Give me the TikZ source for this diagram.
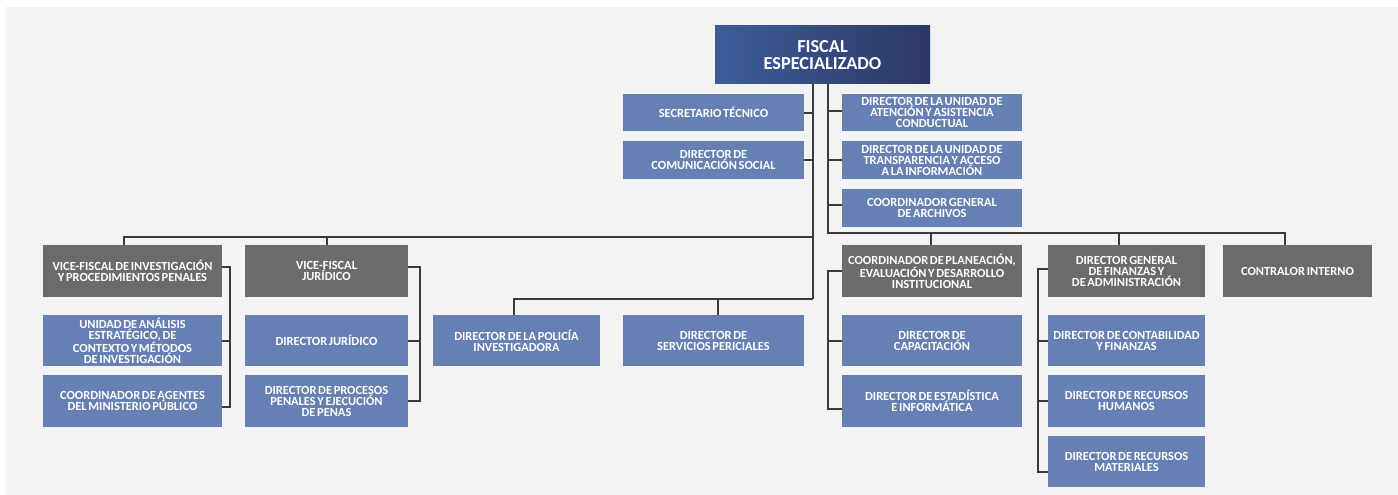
\documentclass[tikz,border=0pt]{standalone}
\usepackage{fontspec}
\setmainfont{Carlito}[WordSpace=0.6]
\definecolor{bgc}{HTML}{F3F3F3}
\definecolor{boxblue}{HTML}{6680B3}
\definecolor{boxgray}{HTML}{6B6B6B}
\definecolor{topL}{HTML}{3D5D99}
\definecolor{topR}{HTML}{2D3864}
\definecolor{linec}{HTML}{3A3A3A}
\tikzset{
  orgbox/.style={draw=none, inner sep=0pt, align=center, text=white,
    font=\fontsize{12.4}{11}\selectfont\bfseries},
  bluebox/.style={orgbox, fill=boxblue},
  graybox/.style={orgbox, fill=boxgray},
  topbox/.style={orgbox, left color=topL, right color=topR,
    font=\fontsize{18.3}{17}\selectfont\bfseries},
  conn/.style={draw=linec, line width=2pt},
}
\begin{document}
\begin{tikzpicture}[x=1pt, y=-1pt]
\useasboundingbox (0,0) rectangle (1398,495);
\fill[white] (0,0) rectangle (1398,495);
\fill[bgc] (5,7) rectangle (1398,495);

% top
\node[topbox, minimum width=215, minimum height=58] (top) at (822.5,55) {FISCAL\\ESPECIALIZADO};

% staff left
\node[bluebox, minimum width=181, minimum height=37] (sec) at (713.5,112.5) {SECRETARIO TÉCNICO};
\node[bluebox, minimum width=181, minimum height=38] (com) at (713.5,160) {DIRECTOR DE\\COMUNICACIÓN SOCIAL};
% staff right
\node[bluebox, minimum width=180, minimum height=37] (aten) at (932,112.5) {DIRECTOR DE LA UNIDAD DE\\ATENCIÓN Y ASISTENCIA\\CONDUCTUAL};
\node[bluebox, minimum width=180, minimum height=38] (trans) at (932,160) {DIRECTOR DE LA UNIDAD DE\\TRANSPARENCIA Y ACCESO\\A LA INFORMACIÓN};
\node[bluebox, minimum width=180, minimum height=38] (arch) at (932,208) {COORDINADOR GENERAL\\DE ARCHIVOS};

% column 1
\node[graybox, minimum width=179, minimum height=52] (vice1) at (132.5,271) {VICE-FISCAL DE INVESTIGACIÓN\\Y PROCEDIMIENTOS PENALES};
\node[bluebox, minimum width=179, minimum height=51] (unidad) at (132.5,340.5) {UNIDAD DE ANÁLISIS\\ESTRATÉGICO, DE\\CONTEXTO Y MÉTODOS\\DE INVESTIGACIÓN};
\node[bluebox, minimum width=179, minimum height=52] (coordag) at (132.5,401) {COORDINADOR DE AGENTES\\DEL MINISTERIO PÚBLICO};

% column 2
\node[graybox, minimum width=163, minimum height=52] (vice2) at (326.5,271) {VICE-FISCAL\\JURÍDICO};
\node[bluebox, minimum width=163, minimum height=51] (dirjur) at (326.5,340.5) {DIRECTOR JURÍDICO};
\node[bluebox, minimum width=163, minimum height=52] (dirproc) at (326.5,401) {DIRECTOR DE PROCESOS\\PENALES Y EJECUCIÓN\\DE PENAS};

% column 3/4
\node[bluebox, minimum width=167, minimum height=51] (pol) at (516.5,340.5) {DIRECTOR DE LA POLICÍA\\INVESTIGADORA};
\node[bluebox, minimum width=181, minimum height=51] (per) at (713.5,340.5) {DIRECTOR DE\\SERVICIOS PERICIALES};

% column 5
\node[graybox, minimum width=180, minimum height=52] (plan) at (932,271) {COORDINADOR DE PLANEACIÓN,\\EVALUACIÓN Y DESARROLLO\\INSTITUCIONAL};
\node[bluebox, minimum width=180, minimum height=51] (cap) at (932,340.5) {DIRECTOR DE\\CAPACITACIÓN};
\node[bluebox, minimum width=180, minimum height=52] (est) at (932,401) {DIRECTOR DE ESTADÍSTICA\\E INFORMÁTICA};

% column 6
\node[graybox, minimum width=157, minimum height=52] (fin) at (1126.5,271) {DIRECTOR GENERAL\\DE FINANZAS Y\\DE ADMINISTRACIÓN};
\node[bluebox, minimum width=157, minimum height=51] (cont) at (1126.5,340.5) {DIRECTOR DE CONTABILIDAD\\Y FINANZAS};
\node[bluebox, minimum width=157, minimum height=52] (rh) at (1126.5,401) {DIRECTOR DE RECURSOS\\HUMANOS};
\node[bluebox, minimum width=157, minimum height=51] (rm) at (1126.5,461.5) {DIRECTOR DE RECURSOS\\MATERIALES};

% column 7
\node[graybox, minimum width=149, minimum height=52] (contr) at (1297.5,271) {CONTRALOR INTERNO};

% junction coordinates
\coordinate (t1) at (813,299);
\coordinate (hL) at (813,237);
\coordinate (t2) at (828,233);
\coordinate (b1) at (230,300);
\coordinate (b2) at (420,300);
\coordinate (b5) at (828,300);
\coordinate (b6) at (1038,300);

% left trunk
\draw[conn] (top.south -| t1) -- (t1);
\draw[conn] (sec.east) -- (sec.east -| t1);
\draw[conn] (com.east) -- (com.east -| t1);
\draw[conn] ([xshift=-8.5pt]vice1.north) |- (hL);
\draw[conn] (vice2.north) -- (vice2.north |- hL);
\draw[conn] ([xshift=-2.5pt]pol.north) |- (t1);
\draw[conn] ([xshift=4.5pt]per.north) -- ([xshift=4.5pt]per.north |- t1);

% right trunk
\draw[conn] (top.south -| t2) -- (t2) -| ([xshift=-12.5pt]contr.north);
\draw[conn] ([yshift=2pt]aten.west -| t2) -- ([yshift=2pt]aten.west);
\draw[conn] (trans.west -| t2) -- (trans.west);
\draw[conn] ([yshift=3pt]arch.west -| t2) -- ([yshift=3pt]arch.west);
\draw[conn] ([xshift=-1pt]plan.north) -- ([xshift=-1pt]plan.north |- t2);
\draw[conn] ([xshift=-7.5pt]fin.north) -- ([xshift=-7.5pt]fin.north |- t2);

% bracket column 1
\draw[conn] ([yshift=4pt]vice1.east) -- ([yshift=4pt]vice1.east -| b1) -- ([yshift=-6pt]coordag.east -| b1) -- ([yshift=-6pt]coordag.east);
\draw[conn] (unidad.east) -- (unidad.east -| b1);

% bracket column 2
\draw[conn] ([yshift=4pt]vice2.east) -- ([yshift=4pt]vice2.east -| b2) -- (dirproc.east -| b2) -- (dirproc.east);
\draw[conn] (dirjur.east) -- (dirjur.east -| b2);

% bracket column 5
\draw[conn] (plan.west) -- (plan.west -| b5) -- ([yshift=-8pt]est.west -| b5) -- ([yshift=-8pt]est.west);
\draw[conn] (cap.west) -- (cap.west -| b5);

% bracket column 6
\draw[conn] ([yshift=2pt]fin.west) -- ([yshift=2pt]fin.west -| b6) -- ([yshift=-10.5pt]rm.west -| b6) -- ([yshift=-10.5pt]rm.west);
\draw[conn] (cont.west) -- (cont.west -| b6);
\draw[conn] (rh.west) -- (rh.west -| b6);
\end{tikzpicture}
\end{document}
